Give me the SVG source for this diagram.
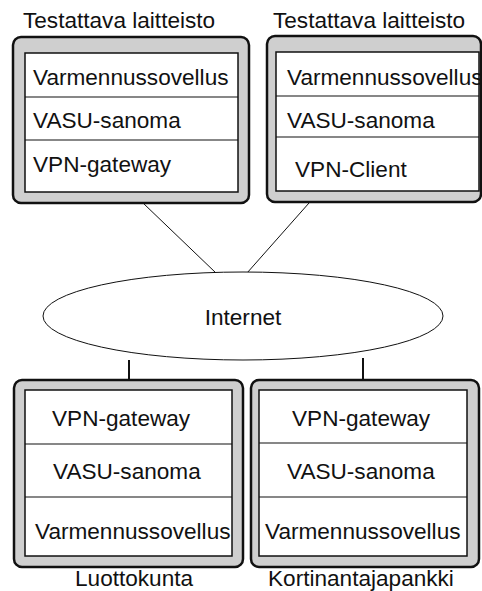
<svg xmlns="http://www.w3.org/2000/svg" width="482" height="591" viewBox="0 0 482 591">
  <style>
    text { font-family: "Liberation Sans", Arial, sans-serif; font-size: 22.6px; fill: #111; }
    .outer { fill: #cfcfcf; stroke: #111; stroke-width: 2.5; }
    .inner { fill: #fff; stroke: #111; stroke-width: 1.5; }
    .row { stroke: #111; stroke-width: 1.2; }
    .thin { stroke: #111; stroke-width: 1; fill: none; }
    .thick { stroke: #111; stroke-width: 2; fill: none; }
  </style>
  <rect width="482" height="591" fill="#fff"/>

  <!-- connectors -->
  <g id="connectors">
    <line class="thin" x1="143" y1="203" x2="216" y2="273"/>
    <line class="thin" x1="309" y1="203" x2="247" y2="273"/>
    <line class="thick" x1="129" y1="360" x2="129" y2="390"/>
    <line class="thick" x1="363" y1="358" x2="363" y2="390"/>
  </g>

  <!-- device under test, left -->
  <g id="device-left">
    <text x="23" y="28">Testattava laitteisto</text>
    <rect class="outer" x="13" y="37" width="236" height="166" rx="8"/>
    <rect class="inner" x="25" y="53" width="213" height="139"/>
    <line class="row" x1="25" y1="97" x2="238" y2="97"/>
    <line class="row" x1="25" y1="140" x2="238" y2="140"/>
    <text x="33" y="85">Varmennussovellus</text>
    <text x="33" y="128">VASU-sanoma</text>
    <text x="33" y="172">VPN-gateway</text>
  </g>

  <!-- device under test, right -->
  <g id="device-right">
    <text x="273" y="28">Testattava laitteisto</text>
    <rect class="outer" x="267" y="36" width="214" height="166" rx="8"/>
    <rect class="inner" x="276" y="52" width="203" height="139"/>
    <line class="row" x1="276" y1="96" x2="479" y2="96"/>
    <line class="row" x1="276" y1="137" x2="479" y2="137"/>
    <text x="287" y="85">Varmennussovellus</text>
    <text x="287" y="128">VASU-sanoma</text>
    <text x="295" y="177">VPN-Client</text>
  </g>

  <!-- network -->
  <g id="internet">
    <ellipse cx="243" cy="316" rx="200" ry="44" fill="#fff" stroke="#111" stroke-width="1"/>
    <text x="243" y="325" text-anchor="middle">Internet</text>
  </g>

  <!-- trust community -->
  <g id="luottokunta">
    <rect class="outer" x="14" y="380" width="229" height="187" rx="8"/>
    <rect class="inner" x="25" y="390" width="207" height="166"/>
    <line class="row" x1="25" y1="444" x2="232" y2="444"/>
    <line class="row" x1="25" y1="497" x2="232" y2="497"/>
    <text x="52" y="426">VPN-gateway</text>
    <text x="53" y="479">VASU-sanoma</text>
    <text x="35" y="539">Varmennussovellus</text>
    <text x="75" y="586">Luottokunta</text>
  </g>

  <!-- card issuer bank -->
  <g id="kortinantajapankki">
    <rect class="outer" x="251" y="380" width="228" height="187" rx="8"/>
    <rect class="inner" x="259" y="390" width="208" height="166"/>
    <line class="row" x1="259" y1="443" x2="467" y2="443"/>
    <line class="row" x1="259" y1="497" x2="467" y2="497"/>
    <text x="292" y="426">VPN-gateway</text>
    <text x="287" y="479">VASU-sanoma</text>
    <text x="265" y="539">Varmennussovellus</text>
    <text x="268" y="586">Kortinantajapankki</text>
  </g>
</svg>
